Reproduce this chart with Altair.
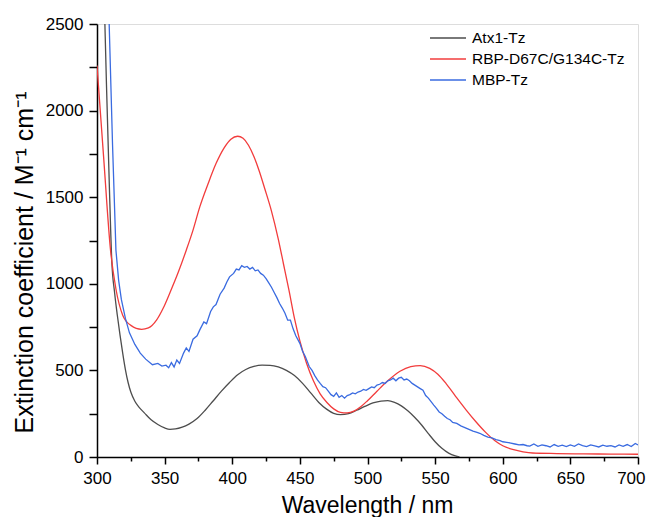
import altair as alt
import pandas as pd

# ---- data ----
atx_wl = [302, 305, 307, 309, 311, 313, 315, 317, 319, 321, 323, 325, 328, 331, 335, 340, 345, 350, 354, 358,
          363, 368, 374, 380, 386, 392, 398, 404, 410, 416, 422, 428, 434, 440, 446, 452, 458, 464, 470, 475,
          480, 486, 492, 498, 504, 510, 515, 520, 525, 530, 535, 540, 545, 550, 555, 560, 565, 568]
atx_val = [3500, 2750, 2150, 1600, 1120, 950, 820, 705, 600, 505, 430, 375, 322, 288, 255, 215, 188, 168, 160, 162,
           172, 190, 222, 270, 325, 380, 430, 475, 505, 523, 530, 529, 520, 500, 470, 425, 370, 315, 275, 252,
           245, 250, 270, 292, 312, 323, 325, 315, 295, 265, 228, 185, 135, 88, 50, 22, 6, 0]

rbp_wl = [300, 305, 310, 314, 319, 325, 333, 338, 344, 349, 354, 360, 366, 371, 376, 382, 388, 394, 399, 404,
          408, 412, 416, 420, 424, 429, 434, 438, 442, 446, 450, 455, 460, 465, 470, 475, 480, 485, 490, 495,
          500, 507, 515, 524, 532, 539, 546, 552, 558, 565, 573, 580, 587, 594, 600, 608, 615, 622, 640, 660,
          680, 700]
rbp_val = [2260, 1720, 1194, 970, 819, 760, 737, 745, 790, 860, 950, 1065, 1194, 1310, 1444, 1575, 1694, 1785, 1835, 1852,
           1840, 1800, 1735, 1650, 1550, 1420, 1260, 1110, 960, 800, 670, 540, 440, 365, 315, 278, 258, 255, 265, 290,
           325, 380, 440, 495, 522, 528, 512, 478, 425, 352, 271, 205, 145, 95, 65, 42, 30, 23, 20, 18,
           17, 16]

mbp_wl = [307, 309, 311.5, 314, 316, 318, 321, 324, 328, 332, 336, 341, 345, 348, 351, 353, 355, 357, 359, 361,
          364, 366, 368, 371, 374, 376, 379, 381, 384, 386, 388, 391, 394, 396, 398, 401, 403, 405, 407, 409,
          411, 413, 415, 417, 419, 421, 423, 425, 427, 429, 431, 433, 435, 437, 439, 441, 443, 445, 447, 450,
          452, 454, 457, 459, 461, 463, 465, 467, 469, 471, 473, 475, 477, 479, 481, 483, 485, 487, 489, 491,
          493, 495, 497, 499, 501, 503, 505, 507, 509, 511, 513, 515, 517, 519, 521, 523, 525, 527, 529, 531,
          533, 535, 537, 539, 541, 543, 545, 547, 549, 551, 553, 555, 557, 559, 561, 563, 566, 569, 572, 575,
          578, 581, 583, 586, 589, 592, 595, 598, 600, 603, 606, 609, 612, 615, 618, 620, 623, 626, 629, 632,
          635, 638, 641, 644, 647, 650, 653, 656, 659, 662, 665, 668, 671, 674, 677, 680, 683, 686, 689, 692,
          695, 698, 700]
mbp_val = [2900, 2500, 1800, 1194, 1020, 910, 800, 717, 650, 600, 565, 533, 540, 525, 530, 515, 545, 520, 560, 540,
           600, 630, 610, 680, 700, 734, 780, 770, 840, 867, 880, 940, 975, 1010, 1040, 1060, 1085, 1080, 1105, 1095,
           1100, 1085, 1095, 1075, 1080, 1060, 1050, 1030, 1005, 980, 950, 920, 886, 860, 830, 790, 790, 740, 700, 656,
           610, 580, 521, 500, 470, 445, 425, 406, 400, 380, 360, 350, 370, 345, 355, 340, 355, 360, 370, 365,
           375, 380, 390, 385, 395, 405, 400, 415, 420, 430, 425, 440, 445, 455, 440, 455, 460, 445, 450, 440,
           425, 415, 405, 395, 385, 355, 340, 320, 300, 281, 260, 250, 235, 222, 215, 200, 194, 180, 170, 160,
           150, 142, 137, 125, 115, 110, 100, 95, 88, 85, 80, 75, 70, 72, 65, 63, 75, 62, 70, 65,
           58, 72, 62, 68, 60, 70, 62, 75, 66, 60, 70, 64, 58, 68, 62, 66, 58, 70, 62, 72,
           60, 78, 70]

series_names = ["Atx1-Tz", "RBP-D67C/G134C-Tz", "MBP-Tz"]
series_colors = ["#4d4d4d", "#f23c3c", "#3a6be0"]

x_ticks = [300, 325, 350, 375, 400, 425, 450, 475, 500, 525, 550, 575, 600, 625, 650, 675, 700]
y_ticks = [0, 250, 500, 750, 1000, 1250, 1500, 1750, 2000, 2250, 2500]

frames = []
for name, wl, val in [(series_names[0], atx_wl, atx_val),
                      (series_names[1], rbp_wl, rbp_val),
                      (series_names[2], mbp_wl, mbp_val)]:
    frames.append(pd.DataFrame({"wl": wl, "val": val, "series": name}))
df = pd.concat(frames, ignore_index=True)

FONT = "Liberation Sans"

color = alt.Color(
    "series:N",
    scale=alt.Scale(domain=series_names, range=series_colors),
    legend=alt.Legend(
        title=None, orient="none", legendX=332, legendY=6,
        symbolType="stroke", symbolSize=1296, symbolStrokeWidth=1.5,
        labelFont=FONT, labelFontSize=15.5, labelColor="black",
        labelOffset=5, clipHeight=16, rowPadding=4, padding=0,
    ),
)

x = alt.X(
    "wl:Q",
    scale=alt.Scale(domain=[300, 700], nice=False, zero=False),
    axis=alt.Axis(
        values=x_ticks, title="Wavelength / nm",
        labelExpr="datum.value % 50 === 0 ? datum.label : ''",
        tickSize={"condition": {"test": "datum.value % 50 === 0", "value": 7}, "value": 4},
        labelAlign={"condition": {"test": "datum.value === 700", "value": "right"}, "value": "center"},
        labelOffset={"condition": {"test": "datum.value === 700", "value": 7}, "value": 0},
        labelFont=FONT, labelFontSize=17, labelColor="black", labelPadding=6,
        titleFont=FONT, titleFontSize=23, titleFontWeight="normal", titleColor="black",
        titleX=270, titleY=55, titleBaseline="alphabetic", titleAlign="center",
        grid=False, domainColor="black", domainWidth=1.5, tickColor="black", tickWidth=1.5,
        labelFlush=False, labelOverlap=False,
    ),
)

y = alt.Y(
    "val:Q",
    scale=alt.Scale(domain=[0, 2500], nice=False),
    axis=alt.Axis(
        values=y_ticks, title="Extinction coefficient / M⁻¹ cm⁻¹",
        labelExpr="datum.value % 500 === 0 ? datum.label : ''",
        format="d", tickSize=8,
        labelFont=FONT, labelFontSize=17, labelColor="black", labelPadding=6,
        titleFont=FONT, titleFontSize=25, titleFontWeight="normal", titleColor="black",
        titleX=-65, titleY=409, titleAlign="left", titleBaseline="alphabetic",
        grid=False, domainColor="black", domainWidth=1.5, tickColor="black", tickWidth=1.5,
        labelFlush=False, labelOverlap=False,
    ),
)

smooth = alt.Chart(df).transform_filter(
    alt.FieldOneOfPredicate(field="series", oneOf=series_names[:2])
).mark_line(clip=True, strokeWidth=1.3, interpolate="monotone").encode(
    x=x, y=y, color=color, order="wl:Q"
)

noisy = alt.Chart(df).transform_filter(
    alt.FieldEqualPredicate(field="series", equal=series_names[2])
).mark_line(clip=True, strokeWidth=1.3, interpolate="linear").encode(
    x=x, y=y, color=color, order="wl:Q"
)

chart = alt.layer(smooth, noisy).properties(
    width=541, height=433,
    autosize=alt.AutoSizeParams(type="none"),
    padding={"left": 89, "top": 16, "right": 8, "bottom": 60},
).configure_view(
    stroke="black", strokeWidth=1.5
).configure(background="white")

chart.save("out.html", embed_options={"renderer": "svg", "actions": False})
